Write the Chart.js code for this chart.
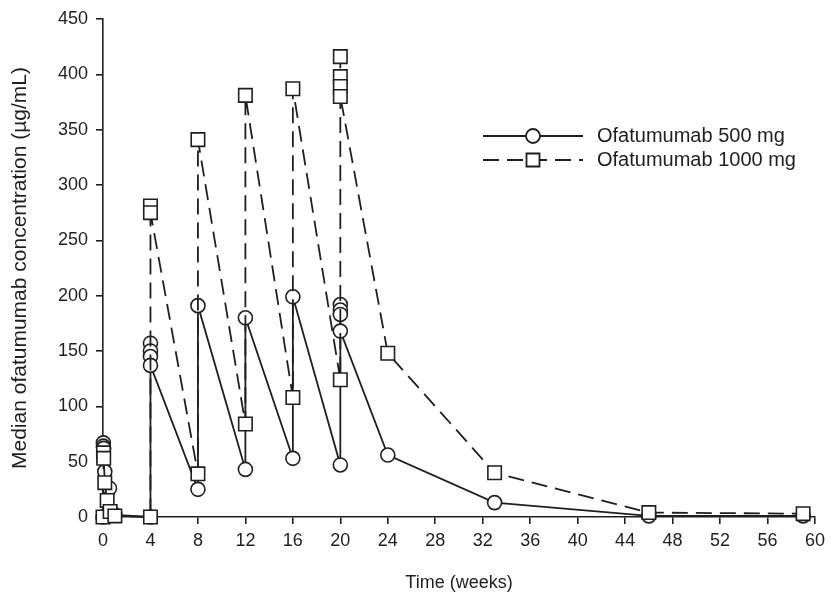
<!DOCTYPE html>
<html lang="en">
<head>
    <title>Median ofatumumab concentration</title>
    <script src="https://cdn.jsdelivr.net/npm/chart.js"></script>
    <style>
        body { margin: 0; background: #fff; }
        .chart-container { width: 831px; height: 602px; }
    </style>
</head>
<body>

<div class="chart-container">
    <canvas id="pkChart" width="831" height="602"></canvas>
</div>

<script>
    // data (weeks, µg/mL)
    const seriesNames = ['Ofatumumab 500 mg', 'Ofatumumab 1000 mg'];

    const weeks500 = [0, 0.03, 0.03, 0.06, 0.15, 0.55, 1, 4, 4, 4, 4, 4, 8, 8, 12, 12, 16, 16, 20, 20, 20, 20, 20, 24, 33, 46, 59];
    const conc500  = [0, 67, 64, 62, 41, 26, 2, 0, 157, 150, 145, 137, 25, 191, 43, 180, 53, 199, 47, 192, 187, 183, 168, 56, 13, 1, 1];

    const weeks1000 = [0, 0.04, 0.06, 0.15, 0.35, 0.6, 1, 4, 4, 4, 8, 8, 12, 12, 16, 16, 20, 20, 20, 20, 20, 24, 33, 46, 59];
    const conc1000  = [0, 58, 53, 31, 15, 5, 1, 0, 281, 275, 39, 341, 84, 381, 108, 387, 124, 416, 398, 389, 380, 148, 40, 4, 3];

    const xTicks = [0, 4, 8, 12, 16, 20, 24, 28, 32, 36, 40, 44, 48, 52, 56, 60];
    const yTicks = [0, 50, 100, 150, 200, 250, 300, 350, 400, 450];

    const xTitle = 'Time (weeks)';
    const yTitle = 'Median ofatumumab concentration (µg/mL)';

    const ink = '#1f1f1f';
    const fontFamily = '"Liberation Sans", Arial, sans-serif';

    function toPoints(xs, ys) {
        return xs.map((x, i) => ({ x: x, y: ys[i] }));
    }

    // legend (line sample + marker), drawn on the canvas
    const lineLegend = {
        id: 'lineLegend',
        afterDraw(chart) {
            const c = chart.ctx;
            const rows = [
                { y: 136, dash: [], marker: 'circle' },
                { y: 160, dash: [16, 8], marker: 'rect' }
            ];
            c.save();
            rows.forEach((row, i) => {
                c.strokeStyle = ink;
                c.lineWidth = 1.8;
                c.setLineDash(row.dash);
                c.beginPath();
                c.moveTo(483, row.y);
                c.lineTo(583, row.y);
                c.stroke();
                c.setLineDash([]);
                c.fillStyle = '#fff';
                c.beginPath();
                if (row.marker === 'circle') {
                    c.arc(533, row.y, 7, 0, Math.PI * 2);
                } else {
                    c.rect(526.5, row.y - 6.5, 13, 13);
                }
                c.fill();
                c.stroke();
                c.fillStyle = ink;
                c.font = '20px ' + fontFamily;
                c.textBaseline = 'middle';
                c.fillText(seriesNames[i], 597, row.y);
            });
            c.restore();
        }
    };

    const ctx = document.getElementById('pkChart').getContext('2d');

    new Chart(ctx, {
        type: 'line',
        data: {
            datasets: [
                {
                    label: seriesNames[0],
                    data: toPoints(weeks500, conc500),
                    borderColor: ink,
                    borderWidth: 1.8,
                    pointStyle: 'circle',
                    pointRadius: 7,
                    pointBackgroundColor: '#fff',
                    pointBorderColor: ink,
                    pointBorderWidth: 1.6,
                    tension: 0,
                    clip: false,
                    order: 1
                },
                {
                    label: seriesNames[1],
                    data: toPoints(weeks1000, conc1000),
                    borderColor: ink,
                    borderWidth: 1.8,
                    borderDash: [16, 8],
                    pointStyle: 'rect',
                    pointRadius: 9.5,
                    pointBackgroundColor: '#fff',
                    pointBorderColor: ink,
                    pointBorderWidth: 1.6,
                    tension: 0,
                    clip: false,
                    order: 0
                }
            ]
        },
        options: {
            responsive: false,
            animation: false,
            layout: { padding: { left: 0, right: 14, top: 19, bottom: 0 } },
            plugins: {
                legend: { display: false },
                tooltip: { enabled: false }
            },
            scales: {
                x: {
                    type: 'linear',
                    min: 0,
                    max: 60,
                    afterBuildTicks: scale => { scale.ticks = xTicks.map(v => ({ value: v })); },
                    afterFit: scale => { scale.height = 85; },
                    grid: { drawOnChartArea: false, drawTicks: true, tickLength: 7, color: ink, lineWidth: 1.6 },
                    border: { display: true, color: ink, width: 1.6 },
                    ticks: { color: ink, padding: 6, font: { family: fontFamily, size: 18 }, maxRotation: 0 },
                    title: { display: true, text: xTitle, color: ink, font: { family: fontFamily, size: 18 }, padding: { top: 4, bottom: 8 } }
                },
                y: {
                    type: 'linear',
                    min: 0,
                    max: 450,
                    afterBuildTicks: scale => { scale.ticks = yTicks.map(v => ({ value: v })); },
                    afterFit: scale => { scale.width = 103; },
                    grid: { drawOnChartArea: false, drawTicks: true, tickLength: 7, color: ink, lineWidth: 1.6 },
                    border: { display: true, color: ink, width: 1.6 },
                    ticks: { color: ink, padding: 8, font: { family: fontFamily, size: 18 } },
                    title: { display: true, text: yTitle, color: ink, font: { family: fontFamily, size: 21 }, padding: { top: 8, bottom: 4 } }
                }
            }
        },
        plugins: [lineLegend]
    });
</script>

</body>
</html>
